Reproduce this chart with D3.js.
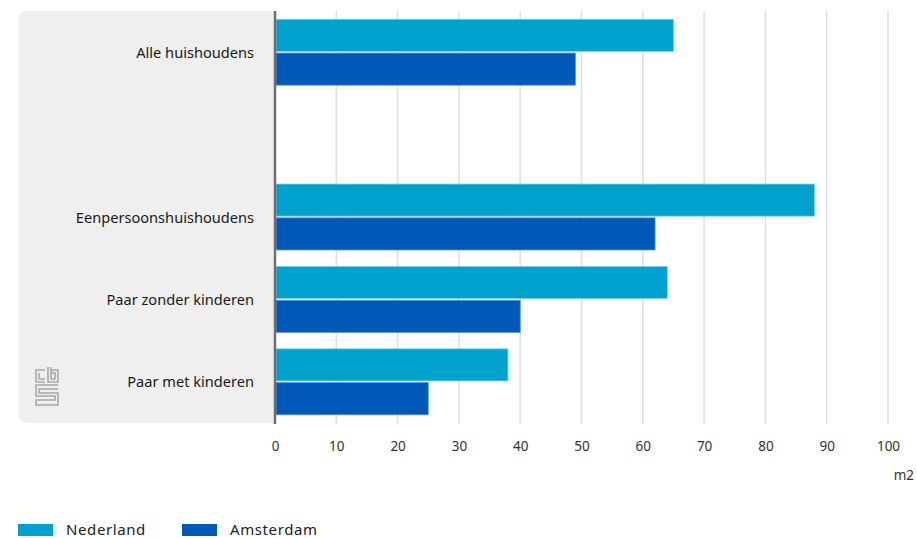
<!DOCTYPE html>
<html lang="nl">
<head>
<meta charset="UTF-8">
<title>Woonoppervlakte per persoon</title>
<script src="https://d3js.org/d3.v7.min.js"></script>
<style>
  body { margin: 0; background: #fff; font-family: "Noto Sans", sans-serif; }
  .cat { font-size: 14.6px; fill: #1a1a1a; }
  .tick-label { font-size: 13.5px; fill: #333; }
  .legend text { font-size: 15px; fill: #222; letter-spacing: 0.6px; }
</style>
</head>
<body>
<div id="chart"></div>
<script>
const categories = ["Alle huishoudens", "", "Eenpersoonshuishoudens", "Paar zonder kinderen", "Paar met kinderen"];
const series = ["Nederland", "Amsterdam"];
const nederland = [65, null, 88, 64, 38];
const amsterdam = [49, null, 62, 40, 25];
const xTicks = [0, 10, 20, 30, 40, 50, 60, 70, 80, 90, 100];
const colors = ["#00a1cd", "#0058b8"];

const W = 917, H = 538;
const svg = d3.select("#chart").append("svg")
  .attr("width", W).attr("height", H);

const plotTop = 11, plotBottom = 423, plotLeft = 275, plotRight = 888;

// keys so the empty slot gets its own band
const keys = categories.map((c, i) => i + "|" + c);
const y = d3.scaleBand().domain(keys).range([plotTop, plotBottom])
  .paddingInner(0.2).paddingOuter(0.1);
const ySub = d3.scaleBand().domain(series).range([0, y.bandwidth()]).paddingInner(0.05);
const x = d3.scaleLinear().domain([0, 100]).range([plotLeft, plotRight]);

// grey label panel, rounded on the left
const px = 19, r = 8;
svg.append("path")
  .attr("d", `M${plotLeft},${plotTop} H${px + r} Q${px},${plotTop} ${px},${plotTop + r} V${plotBottom - r} Q${px},${plotBottom} ${px + r},${plotBottom} H${plotLeft} Z`)
  .attr("fill", "#efefef");

// gridlines
svg.append("g").selectAll("line")
  .data(xTicks.slice(1))
  .join("line")
  .attr("x1", d => x(d)).attr("x2", d => x(d))
  .attr("y1", plotTop).attr("y2", plotBottom + 1)
  .attr("stroke", "#dedede").attr("stroke-width", 1.5);

// bars
const rows = categories.map((c, i) => ({key: keys[i], values: [nederland[i], amsterdam[i]]}));
const g = svg.append("g").selectAll("g")
  .data(rows)
  .join("g")
  .attr("transform", d => `translate(0,${y(d.key)})`);

g.selectAll("rect")
  .data(d => d.values.map((v, j) => ({s: series[j], v, j})).filter(e => e.v != null))
  .join("rect")
  .attr("x", x(0) + 1)
  .attr("y", d => ySub(d.s))
  .attr("width", d => x(d.v) - x(0) - 1)
  .attr("height", ySub.bandwidth())
  .attr("fill", d => colors[d.j])
  .attr("stroke", d => d.j === 0 ? "#7fd0e6" : "#5a8fd6")
  .attr("stroke-width", 0.8);

// category labels
svg.append("g").selectAll("text")
  .data(rows.filter(d => d.key.split("|")[1] !== ""))
  .join("text")
  .attr("class", "cat")
  .attr("x", 254)
  .attr("y", d => y(d.key) + y.bandwidth() / 2 - 0.5)
  .attr("text-anchor", "end")
  .attr("dominant-baseline", "central")
  .text(d => d.key.split("|")[1]);

// axis line
svg.append("line")
  .attr("x1", x(0)).attr("x2", x(0))
  .attr("y1", plotTop).attr("y2", plotBottom + 1)
  .attr("stroke", "#6f6f6f").attr("stroke-width", 2.5);

// x axis labels
const xAxis = d3.axisBottom(x).tickValues(xTicks).tickSize(0).tickPadding(0);
const ax = svg.append("g").attr("transform", `translate(0,${plotBottom + 18})`).call(xAxis);
ax.select(".domain").remove();
ax.selectAll("text").attr("class", "tick-label").attr("fill", null)
  .style("font-family", "'Noto Sans', sans-serif");

svg.append("text")
  .attr("class", "tick-label")
  .attr("x", 914).attr("y", 480)
  .attr("text-anchor", "end")
  .text("m2");

// cbs logo
const logo = svg.append("g")
  .attr("transform", "translate(35,367)")
  .attr("fill", "none").attr("stroke", "#a8a8a8").attr("stroke-width", 1.6);
logo.append("path").attr("d", "M10,3 H1 V15 H10 M4,6 V12 H10");
logo.append("path").attr("d", "M13,0 V15 H23 V3 H16 M16,0 V12 H20 V6 H16");
logo.append("path").attr("d", "M23,18 H1 V29 H20 V33 H1 V38 H23 V26 H4 V22 H23");

// legend
const leg = svg.append("g").attr("class", "legend");
const legX = [18, 182];
series.forEach((s, i) => {
  leg.append("rect")
    .attr("x", legX[i]).attr("y", 524)
    .attr("width", 35).attr("height", 12)
    .attr("fill", colors[i]);
  leg.append("text")
    .attr("x", legX[i] + 48).attr("y", 529)
    .attr("dominant-baseline", "central")
    .text(s);
});
</script>
</body>
</html>
